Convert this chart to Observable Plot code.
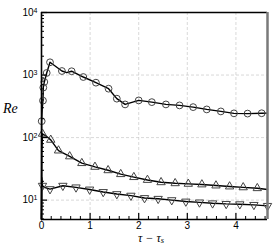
<!DOCTYPE html>
<html><head><meta charset="utf-8">
<script src="https://cdn.jsdelivr.net/npm/d3@7"></script>
<script src="https://cdn.jsdelivr.net/npm/@observablehq/plot@0.6"></script>
<style>body{margin:0;background:#fff} #chart svg{display:block}</style>
</head><body><div id="chart"></div>
<script>
// Series 1 (circles)
const circleX  = [0, 0.002, 0.004, 0.015, 0.03, 0.037, 0.058, 0.107, 0.175, 0.42, 0.52, 0.62, 0.86, 1.12, 1.38, 1.55, 1.72, 2.0, 2.27, 2.56, 2.84, 3.12, 3.40, 3.69, 3.96, 4.24, 4.53, 4.65];
const circleRe = [4.9, 40, 183, 290, 390, 630, 775, 1080, 1600, 1160, 1090, 1150, 930, 755, 605, 419, 339, 393, 369, 339, 327, 307, 282, 262, 244, 242, 245, 246];
const circleMarkX  = [0.004, 0.03, 0.037, 0.058, 0.107, 0.175, 0.42, 0.62, 0.86, 1.12, 1.38, 1.55, 1.72, 2.0, 2.27, 2.56, 2.84, 3.12, 3.40, 3.69, 3.96, 4.24, 4.53];
const circleMarkRe = [183, 390, 630, 775, 1080, 1600, 1160, 1150, 930, 755, 605, 419, 339, 393, 369, 339, 327, 307, 282, 262, 244, 242, 245];

// Series 2 (up triangles)
const upX  = [0, 0.005, 0.02, 0.1, 0.19, 0.35, 0.58, 0.83, 1.10, 1.37, 1.63, 1.90, 2.18, 2.46, 2.75, 3.02, 3.30, 3.59, 3.87, 4.15, 4.44, 4.65];
const upRe = [4.9, 60, 115, 105, 92, 62, 50, 39, 34, 30, 26, 23.3, 21, 19.3, 18.6, 18.2, 17.8, 17.1, 16.5, 16, 15.5, 14.8];
const upMarkX  = [0.02, 0.19, 0.35, 0.58, 0.83, 1.10, 1.37, 1.63, 1.90, 2.18, 2.46, 2.75, 3.02, 3.30, 3.59, 3.87, 4.15, 4.44];
const upMarkRe = [115, 92, 62, 50, 39, 34, 30, 26, 23.3, 21, 19.3, 18.6, 18.2, 17.8, 17.1, 16.5, 16, 15.5];

// Series 3 (down triangles)
const downX  = [0, 0.004, 0.01, 0.02, 0.06, 0.175, 0.44, 0.71, 0.99, 1.27, 1.55, 1.84, 2.12, 2.40, 2.68, 2.97, 3.25, 3.52, 3.80, 4.08, 4.37, 4.65];
const downRe = [4.9, 23, 21, 17, 16, 15, 17, 16, 14.8, 13.5, 12.5, 11.8, 10.8, 10.5, 10, 9.5, 9.2, 8.9, 8.7, 8.6, 8.4, 8.1];
const downMarkX  = [0.02, 0.175, 0.44, 0.71, 0.99, 1.27, 1.55, 1.84, 2.12, 2.40, 2.68, 2.97, 3.25, 3.52, 3.80, 4.08, 4.37, 4.65];
const downMarkRe = [17, 15, 17, 16, 14.8, 13.5, 12.5, 11.8, 10.8, 10.5, 10, 9.5, 9.2, 8.9, 8.7, 8.6, 8.4, 8.1];

// Axes
const xDomain = [0, 4.65];
const yDomain = [4.9, 10000];
const xMajor = [0, 1, 2, 3, 4];
const xMinor = [0.2, 0.4, 0.6, 0.8, 1.2, 1.4, 1.6, 1.8, 2.2, 2.4, 2.6, 2.8, 3.2, 3.4, 3.6, 3.8, 4.2, 4.4, 4.6];
const yMajor = [10, 100, 1000, 10000];
const yExp = ["1", "2", "3", "4"];
const yMinor = [5, 6, 7, 8, 9, 20, 30, 40, 50, 60, 70, 80, 90, 200, 300, 400, 500, 600, 700, 800, 900, 2000, 3000, 4000, 5000, 6000, 7000, 8000, 9000];

const toRows = (xs, ys) => xs.map((x, i) => ({x, y: ys[i]}));

const triDown = {
  draw(context, size) {
    const sqrt3 = Math.sqrt(3);
    const y = -Math.sqrt(size / (sqrt3 * 3));
    context.moveTo(0, -y * 2);
    context.lineTo(-sqrt3 * y, y);
    context.lineTo(sqrt3 * y, y);
    context.closePath();
  }
};

const markStroke = "#444";
const chart = Plot.plot({
  width: 274, height: 244,
  marginLeft: 41, marginRight: 7, marginTop: 12, marginBottom: 25,
  style: {fontFamily: "'Liberation Sans', Arial, sans-serif", fontSize: "10px", background: "#fff"},
  x: {domain: xDomain, label: null},
  y: {type: "log", domain: yDomain, label: null},
  marks: [
    Plot.gridY(yMajor.slice(0, 3), {stroke: "#c8c8c8", strokeOpacity: 1, strokeDasharray: "3,2", strokeWidth: 0.7}),
    Plot.gridX(xMajor.slice(1), {stroke: "#c8c8c8", strokeOpacity: 1, strokeDasharray: "3,2", strokeWidth: 0.7}),
    Plot.line(toRows(circleX, circleRe), {x: "x", y: "y", stroke: "black", strokeWidth: 1.4}),
    Plot.line(toRows(upX, upRe), {x: "x", y: "y", stroke: "black", strokeWidth: 1.4}),
    Plot.line(toRows(downX, downRe), {x: "x", y: "y", stroke: "black", strokeWidth: 1.4}),
    Plot.dot(toRows(circleMarkX, circleMarkRe), {x: "x", y: "y", r: 3.4, stroke: markStroke, strokeWidth: 1, fill: "none"}),
    Plot.dot(toRows(upMarkX, upMarkRe), {x: "x", y: "y", r: 3.1, symbol: "triangle", stroke: markStroke, strokeWidth: 1, fill: "none"}),
    Plot.dot(toRows(downMarkX, downMarkRe), {x: "x", y: "y", r: 3.1, symbol: triDown, stroke: markStroke, strokeWidth: 1, fill: "none"}),
    // tick labels
    Plot.axisX({ticks: xMajor, tickSize: 0, tickPadding: 2, tickFormat: d => String(d), label: null}),
    Plot.axisY({ticks: yMajor, tickSize: 0, tickPadding: 4, tickFormat: d => "10^" + yExp[yMajor.indexOf(d)], label: null}),
    // inward ticks
    Plot.axisX({ticks: xMajor, tickSize: -6, text: null, label: null, strokeWidth: 1.2}),
    Plot.axisX({ticks: xMinor, tickSize: -3, text: null, label: null}),
    Plot.axisY({ticks: yMajor, tickSize: -6, text: null, label: null, strokeWidth: 1.2}),
    Plot.axisY({ticks: yMinor, tickSize: -3, text: null, label: null}),
    // frame
    Plot.ruleY([yDomain[1]], {stroke: "black", strokeWidth: 1.3}),
    Plot.ruleY([yDomain[0]], {stroke: "black", strokeWidth: 1.6}),
    Plot.ruleX([xDomain[0]], {stroke: "black", strokeWidth: 1.6}),
    Plot.ruleX([xDomain[1]], {stroke: "#7a7a7a", strokeWidth: 2.5})
  ]
});

const svg = d3.select(chart);
svg.selectAll('g[aria-label="y-axis tick label"] text').each(function() {
  const t = d3.select(this);
  const [b, e] = t.text().split("^");
  t.text(b);
  t.append("tspan").attr("dy", "-0.45em").attr("font-size", "7px").text(e);
});
svg.append("text")
  .attr("x", 3).attr("y", 113).attr("text-anchor", "start")
  .attr("font-family", "'Liberation Serif', 'Times New Roman', serif")
  .attr("font-style", "italic").attr("font-size", 14).attr("fill", "black")
  .text("Re");
const xl = svg.append("text")
  .attr("x", 151).attr("y", 241.5).attr("text-anchor", "middle")
  .attr("font-family", "'Liberation Serif', 'Times New Roman', serif")
  .attr("font-style", "italic").attr("font-size", 12).attr("fill", "black");
xl.append("tspan").text("τ − τ");
xl.append("tspan").attr("dy", "0.2em").attr("font-size", 8.5).text("s");

document.getElementById("chart").append(chart);
</script>
</body></html>
